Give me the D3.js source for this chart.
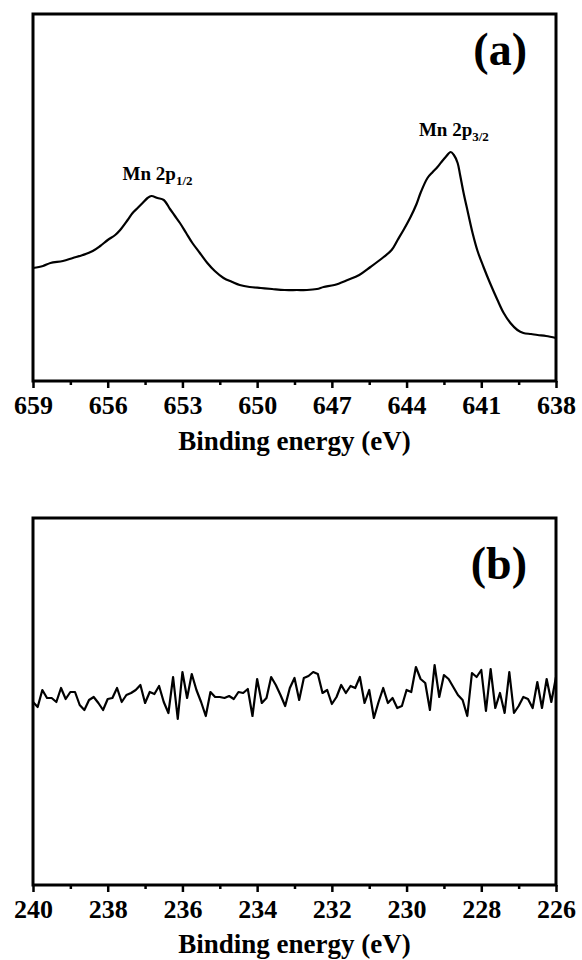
<!DOCTYPE html>
<html><head><meta charset="utf-8">
<script src="https://cdn.jsdelivr.net/npm/d3@7"></script>
<style>
body{margin:0;background:#fff;}
svg{display:block;}
text{font-family:"Liberation Serif","Times New Roman",serif;font-weight:bold;fill:#000;}
</style>
</head><body>
<svg id="chart" width="582" height="960"></svg>
<script>
// ---------- Panel (a): Mn 2p ----------
const aEnergy = [659.0,658.6,658.3,657.8,657.4,657.0,656.6,656.3,656.0,655.7,655.5,655.2,655.0,654.8,654.6,654.4,654.25,654.0,653.75,653.5,653.3,653.1,652.85,652.6,652.3,652.0,651.7,651.35,651.0,650.7,650.3,649.85,649.4,648.9,648.4,648.0,647.6,647.33,646.9,646.37,645.9,645.45,644.92,644.6,644.36,644.1,643.84,643.6,643.44,643.16,642.95,642.76,642.6,642.43,642.23,642.1,641.95,641.85,641.71,641.55,641.35,641.15,640.91,640.65,640.35,640.1,639.83,639.55,639.31,639.0,638.74,638.4,638.0];
const aIntensity = [113,115,118,120,123,126,130,135,141,146,151,161,168,173,178,183,185,183,181,172,165,158,148,138,128,118,110,103,99,96,94,93,92,91,91,91,92,94,96,101,106,114,124,131,141,152,164,177,188,203,209,214,219,224,229,226,218,206,188,170,148,130,114,98,81,68,58,51,48,47,46,45,43];
const aTicks = [659,656,653,650,647,644,641,638];
const aMinorTicks = [657.5,654.5,651.5,648.5,645.5,642.5,639.5];
const aPeakLabels = [
  {main:"Mn 2p", sub:"1/2", energy:654.0, intensity:185},
  {main:"Mn 2p", sub:"3/2", energy:642.1, intensity:229}
];

// ---------- Panel (b) ----------
const bEnergyStart = 240, bEnergyStep = 0.125;
const bIntensity = [183,178,195,187,187,183,197,186,193,193,180,175,185,188,182,175,186,187,197,183,190,192,195,200,182,193,191,199,183,172,208,166,213,187,211,195,183,169,193,188,188,187,189,186,193,192,196,169,206,182,187,208,200,190,179,197,207,185,207,209,213,211,192,195,181,188,200,192,199,197,208,182,195,167,183,197,182,187,177,179,195,193,218,206,202,175,220,188,210,206,198,190,185,169,212,208,215,174,216,177,192,172,213,172,179,188,186,177,203,177,206,183,208];
const bEnergy = bIntensity.map((_, i) => bEnergyStart - i * bEnergyStep);
const bTicks = [240,238,236,234,232,230,228,226];
const bMinorTicks = [239,237,235,233,231,229,227];

const panelTitle = ["(a)", "(b)"];
const xTitle = "Binding energy (eV)";

const svg = d3.select("#chart");
const L = 33, R = 556;

function drawPanel(cfg) {
  const {top, bottom, xDomain, energy, intensity, ticks, minor, label, curve, titleY, labelY} = cfg;
  const x = d3.scaleLinear().domain(xDomain).range([L, R]);
  const y = d3.scaleLinear().domain([0, 367]).range([bottom, top]);
  const g = svg.append("g");

  const pts = energy.map((e, i) => [e, intensity[i]]);
  g.append("path")
    .datum(pts)
    .attr("fill", "none")
    .attr("stroke", "#000")
    .attr("stroke-width", 2.2)
    .attr("stroke-linejoin", "round")
    .attr("d", d3.line().x(d => x(d[0])).y(d => y(d[1])).curve(curve));

  g.append("rect")
    .attr("x", L).attr("y", top)
    .attr("width", R - L).attr("height", bottom - top)
    .attr("fill", "none").attr("stroke", "#000").attr("stroke-width", 3);

  const ax = g.append("g").attr("transform", `translate(0,${bottom})`)
    .call(d3.axisBottom(x).tickValues(ticks).tickSize(7).tickFormat(d3.format("d")));
  ax.select(".domain").remove();
  ax.selectAll(".tick line").attr("stroke", "#000").attr("stroke-width", 2.5);
  ax.selectAll(".tick text")
    .attr("y", 33).attr("dy", 0)
    .style("font-family", '"Liberation Serif","Times New Roman",serif')
    .style("font-weight", "bold").style("font-size", "26px");

  const mx = g.append("g").attr("transform", `translate(0,${bottom})`)
    .call(d3.axisBottom(x).tickValues(minor).tickSize(4).tickFormat(""));
  mx.select(".domain").remove();
  mx.selectAll(".tick line").attr("stroke", "#000").attr("stroke-width", 2.5);

  g.append("text")
    .attr("x", (L + R) / 2).attr("y", bottom + titleY)
    .attr("text-anchor", "middle")
    .style("font-size", "27px")
    .text(xTitle);

  g.append("text")
    .attr("x", 527).attr("y", top + labelY)
    .attr("text-anchor", "end")
    .style("font-size", "46px")
    .text(label);

  return {x, y, g};
}

const pa = drawPanel({top: 14, bottom: 381, xDomain: [659, 638], energy: aEnergy, intensity: aIntensity,
  ticks: aTicks, minor: aMinorTicks, label: panelTitle[0], curve: d3.curveCatmullRom.alpha(0.5), titleY: 69, labelY: 51});

aPeakLabels.forEach(p => {
  const t = pa.g.append("text")
    .attr("x", pa.x(p.energy)).attr("y", pa.y(p.intensity) - 16)
    .attr("text-anchor", "middle")
    .style("font-size", "19px");
  t.append("tspan").text(p.main);
  t.append("tspan").attr("dy", 5).style("font-size", "13px").text(p.sub);
});

drawPanel({top: 518, bottom: 885, xDomain: [240, 226], energy: bEnergy, intensity: bIntensity,
  ticks: bTicks, minor: bMinorTicks, label: panelTitle[1], curve: d3.curveLinear, titleY: 68, labelY: 61});
</script>
</body></html>
